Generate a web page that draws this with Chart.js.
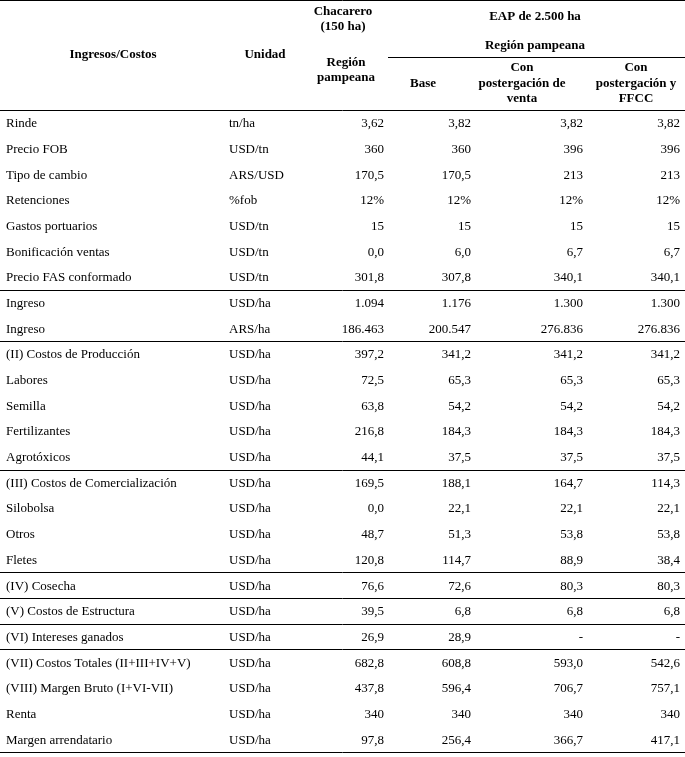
<!DOCTYPE html>
<html><head><meta charset="utf-8">
<script src="https://cdn.jsdelivr.net/npm/chart.js@4"></script>
<style>body{margin:0;background:#fff}canvas{display:block}</style>
</head><body>
<canvas id="c" width="685" height="757"></canvas>
<script>
const rowLabels = ["Rinde","Precio FOB","Tipo de cambio","Retenciones","Gastos portuarios","Bonificación ventas","Precio FAS conformado","Ingreso","Ingreso","(II) Costos de Producción","Labores","Semilla","Fertilizantes","Agrotóxicos","(III) Costos de Comercialización","Silobolsa","Otros","Fletes","(IV) Cosecha","(V) Costos de Estructura","(VI) Intereses ganados","(VII) Costos Totales (II+III+IV+V)","(VIII) Margen Bruto (I+VI-VII)","Renta","Margen arrendatario"];
const units = ["tn/ha","USD/tn","ARS/USD","%fob","USD/tn","USD/tn","USD/tn","USD/ha","ARS/ha","USD/ha","USD/ha","USD/ha","USD/ha","USD/ha","USD/ha","USD/ha","USD/ha","USD/ha","USD/ha","USD/ha","USD/ha","USD/ha","USD/ha","USD/ha","USD/ha"];
const chacarero = ["3,62","360","170,5","12%","15","0,0","301,8","1.094","186.463","397,2","72,5","63,8","216,8","44,1","169,5","0,0","48,7","120,8","76,6","39,5","26,9","682,8","437,8","340","97,8"];
const base = ["3,82","360","170,5","12%","15","6,0","307,8","1.176","200.547","341,2","65,3","54,2","184,3","37,5","188,1","22,1","51,3","114,7","72,6","6,8","28,9","608,8","596,4","340","256,4"];
const postergacion = ["3,82","396","213","12%","15","6,7","340,1","1.300","276.836","341,2","65,3","54,2","184,3","37,5","164,7","22,1","53,8","88,9","80,3","6,8","-","593,0","706,7","340","366,7"];
const postergacionFFCC = ["3,82","396","213","12%","15","6,7","340,1","1.300","276.836","341,2","65,3","54,2","184,3","37,5","114,3","22,1","53,8","38,4","80,3","6,8","-","542,6","757,1","340","417,1"];
const separatorsAfter = [6,8,13,17,18,19,20];

const F = '"Liberation Serif", "DejaVu Serif", serif';
const tablePlugin = {
  id:'table',
  afterDraw(chart){
    const ctx = chart.ctx, y = chart.scales.y;
    ctx.save();
    ctx.fillStyle='#000'; ctx.strokeStyle='#000'; ctx.lineWidth=1;
    const hl=(yy,x0,x1)=>{ctx.beginPath();ctx.moveTo(x0,Math.round(yy)+0.5);ctx.lineTo(x1,Math.round(yy)+0.5);ctx.stroke();};
    const step = y.getPixelForValue(1)-y.getPixelForValue(0);
    // header
    ctx.textBaseline='middle'; ctx.textAlign='center';
    ctx.font='bold 13px '+F;
    [["Ingresos/Costos",113,55],["Unidad",265,55],["Chacarero",343,12],["(150 ha)",343,27],["Región",346,63],["pampeana",346,78],
     ["EAP de 2.500 ha",535,17],["Región pampeana",535,46],["Base",423,84],["Con",522,68],["postergación de",522,84],["venta",522,99],
     ["Con",636,68],["postergación y",636,84],["FFCC",636,99]].forEach(([t,x,yy])=>ctx.fillText(t,x,yy));
    hl(0,0,685); hl(57,388,685);
    const top = y.getPixelForValue(0)-step/2;
    hl(top,0,685);
    ctx.font='13px '+F;
    rowLabels.forEach((lab,i)=>{
      const yy=y.getPixelForValue(i)+1;
      ctx.textAlign='left'; ctx.fillText(lab,6,yy); ctx.fillText(units[i],229,yy);
      ctx.textAlign='right';
      ctx.fillText(chacarero[i],384,yy); ctx.fillText(base[i],471,yy);
      ctx.fillText(postergacion[i],583,yy); ctx.fillText(postergacionFFCC[i],680,yy);
    });
    separatorsAfter.forEach(i=>hl(y.getPixelForValue(i)+step/2,0,685));
    hl(y.getPixelForValue(rowLabels.length-1)+step/2,0,685);
    ctx.restore();
  }
};
new Chart(document.getElementById('c'),{
  type:'scatter',
  data:{labels:rowLabels,datasets:[]},
  options:{responsive:false,animation:false,
    layout:{padding:{top:110,bottom:5,left:0,right:0}},
    plugins:{legend:{display:false},tooltip:{enabled:false}},
    scales:{
      x:{type:'linear',min:0,max:685,display:false},
      y:{type:'category',labels:rowLabels,offset:true,display:false}
    }},
  plugins:[tablePlugin]
});
</script>
</body></html>
